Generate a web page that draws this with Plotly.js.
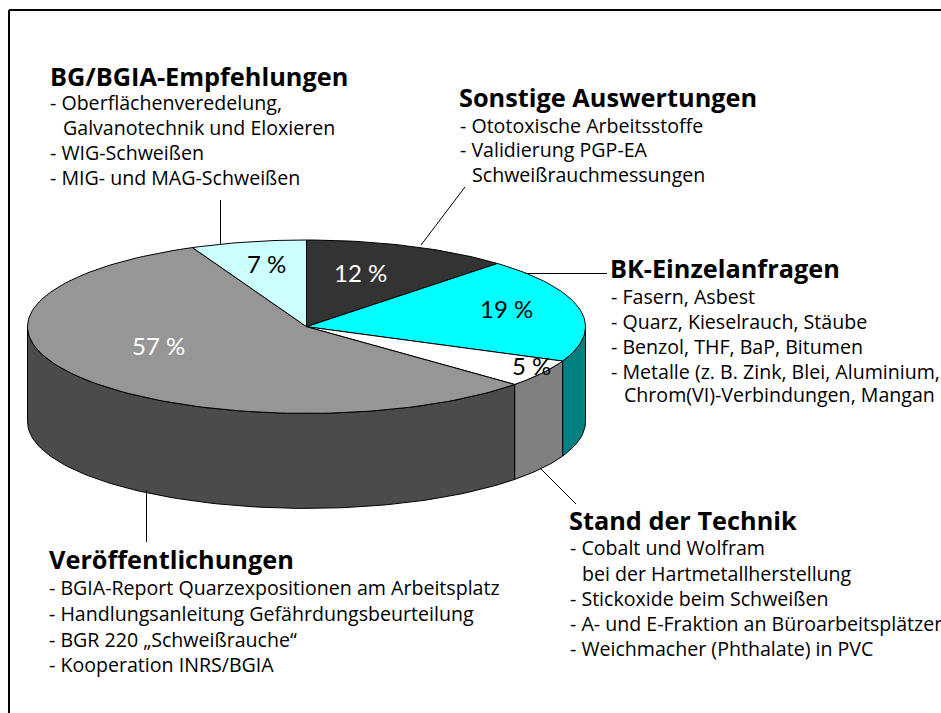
<!DOCTYPE html>
<html><head><meta charset="utf-8">
<script src="https://cdn.plot.ly/plotly-3.0.1.min.js"></script>
<style>html,body{margin:0;padding:0;background:#fff;overflow:hidden}#c{width:941px;height:713px}</style>
</head><body><div id="c"></div>
<script>
const categories = ["Sonstige Auswertungen","BK-Einzelanfragen","Stand der Technik","Veröffentlichungen","BG/BGIA-Empfehlungen"];
const shares = [12, 19.49, 5.11, 56.7, 6.7];
const topColors = ["#333333","#00FFFF","#FFFFFF","#969696","#CCFFFF"];
const sideColors = ["#191919","#008080","#808080","#4B4B4B","#669999"];
const pctColors = ["#FFFFFF","#000000","#000000","#FFFFFF","#000000"];
const pctX = [360,506,531,158,266];
const pctY = [272,308,365,345,263];

const blockSonstige = ["- Ototoxische Arbeitsstoffe","- Validierung PGP-EA","  Schweißrauchmessungen"];
const blockBK = ["- Fasern, Asbest","- Quarz, Kieselrauch, Stäube","- Benzol, THF, BaP, Bitumen","- Metalle (z. B. Zink, Blei, Aluminium,","  Chrom(VI)-Verbindungen, Mangan"];
const blockStand = ["- Cobalt und Wolfram","  bei der Hartmetallherstellung","- Stickoxide beim Schweißen","- A- und E-Fraktion an Büroarbeitsplätzen","- Weichmacher (Phthalate) in PVC"];
const blockVer = ["- BGIA-Report Quarzexpositionen am Arbeitsplatz","- Handlungsanleitung Gefährdungsbeurteilung","- BGR 220 „Schweißrauche“","- Kooperation INRS/BGIA"];
const blockBG = ["- Oberflächenveredelung,","  Galvanotechnik und Eloxieren","- WIG-Schweißen","- MIG- und MAG-Schweißen"];

const FONT = "'Open Sans', Lato, sans-serif";
const PCT_FONT = "Lato, 'Open Sans', sans-serif";
const cx = 306.5, cy = 326.7, rx = 279, ry = 86.7, depth = 95;
const pt = (deg, dy) => {
  const a = deg * Math.PI / 180;
  return [cx + rx * Math.sin(a), cy - ry * Math.cos(a) + (dy || 0)];
};
function arc(a0, a1, dy) {
  const n = Math.max(2, Math.ceil(Math.abs(a1 - a0) / 1.5));
  const out = [];
  for (let i = 0; i <= n; i++) out.push(pt(a0 + (a1 - a0) * i / n, dy));
  return out;
}
const polyTrace = (pts, fill) => ({
  type: "scatter", mode: "lines", x: pts.map(p => p[0]), y: pts.map(p => p[1]),
  fill: "toself", fillcolor: fill, line: {color: "#000000", width: 1},
  hoverinfo: "skip", showlegend: false
});

const total = shares.reduce((s, v) => s + v, 0);
let cum = 0;
const bounds = shares.map(v => { const b = [cum / total * 360, (cum + v) / total * 360]; cum += v; return b; });

const traces = [];
bounds.forEach((b, i) => {
  const a0 = Math.max(b[0], 90), a1 = Math.min(b[1], 270);
  if (a1 > a0) {
    const pts = arc(a0, a1, 0).concat(arc(a1, a0, depth));
    pts.push(pts[0]);
    traces.push(polyTrace(pts, sideColors[i]));
  }
});
bounds.forEach((b, i) => {
  const pts = [[cx, cy]].concat(arc(b[0], b[1], 0));
  pts.push([cx, cy]);
  traces.push(polyTrace(pts, topColors[i]));
});

const annotations = [];
function txt(x, y, text, size, color, bold) {
  annotations.push({x, y: y - 1, xref: "x", yref: "y", xanchor: "left", yanchor: "middle", showarrow: false,
    text: bold ? "<b>" + text + "</b>" : text, align: "left", borderpad: 0,
    font: {family: FONT, size, color: color || "#000000"}});
}
function block(heading, hx, hy, lines, lx, ly, indent, hs, ls) {
  txt(hx, hy, heading, hs, "#000", true);
  lines.forEach((l, i) => {
    const ind = l.startsWith("  ");
    txt(ind ? indent : lx, ly[i], l.trim(), ls);
  });
}
const HS = 25.3, LS = 19.6;
block(categories[4], 49, 77, blockBG, 49, [103,128,153,178], 62, HS, LS);
block(categories[0], 458, 98, blockSonstige, 459, [126,150,175], 471, HS, LS);
block(categories[1], 609, 269, blockBK, 610, [297,322,347,372,395], 623, HS, LS);
block(categories[2], 568, 521, blockStand, 569, [548,574,599,624,649], 581, HS, LS);
block(categories[3], 48, 560, blockVer, 48, [588,614,640,665], 60, HS, LS);

shares.forEach((v, i) => {
  annotations.push({x: pctX[i], y: pctY[i], xref: "x", yref: "y", xanchor: "center", yanchor: "middle",
    showarrow: false, text: Math.round(v) + " %", font: {family: PCT_FONT, size: 24, color: pctColors[i]}});
});

const seg = (x0, y0, x1, y1, w) => ({type: "line", xref: "x", yref: "y", x0, y0, x1, y1, line: {color: "#000", width: w || 1}});
const shapes = [
  seg(9, 10, 941, 10, 2), seg(9, 10, 9, 713, 2),
  seg(220.5, 200, 220.5, 244), seg(465, 187, 421, 245),
  seg(525, 273.5, 607, 273.5), seg(540, 468, 576, 504), seg(146.5, 490, 146.5, 542)
];

Plotly.newPlot("c", traces, {
  width: 941, height: 713, margin: {l: 0, r: 0, t: 0, b: 0},
  paper_bgcolor: "#fff", plot_bgcolor: "#fff", showlegend: false, hovermode: false,
  xaxis: {range: [0, 941], visible: false, fixedrange: true},
  yaxis: {range: [713, 0], visible: false, fixedrange: true},
  annotations, shapes
}, {staticPlot: true, displayModeBar: false});
</script></body></html>
